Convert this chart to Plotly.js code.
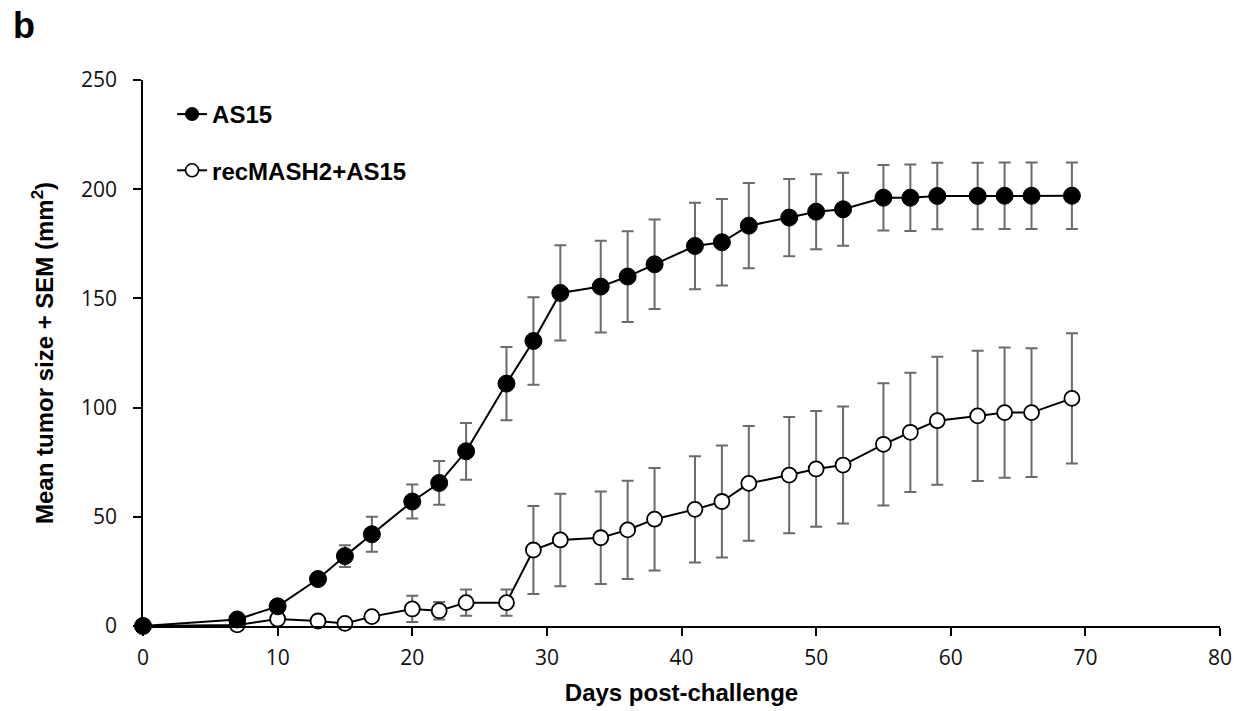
<!DOCTYPE html>
<html>
<head>
<meta charset="utf-8">
<script src="https://cdn.plot.ly/plotly-3.0.1.min.js"></script>
<style>html,body{margin:0;padding:0;background:#fff;}#chart{width:1251px;height:711px;}</style>
</head>
<body>
<div id="chart"></div>
<script>
const days = [0, 7, 10, 13, 15, 17, 20, 22, 24, 27, 29, 31, 34, 36, 38, 41, 43, 45, 48, 50, 52, 55, 57, 59, 62, 64, 66, 69];
const as15Mean = [0, 3, 9, 21.5, 32, 42, 57, 65.5, 80, 111, 130.5, 152.5, 155.4, 160, 165.6, 174, 175.7, 183.3, 187, 189.7, 190.8, 196.1, 196.1, 196.9, 196.9, 197, 197, 197];
const as15Sem = [0, 0, 0, 2, 5, 8, 7.8, 10, 13, 16.8, 20, 21.8, 21, 20.8, 20.5, 19.8, 19.8, 19.5, 17.7, 17.2, 16.7, 15, 15.2, 15.2, 15.2, 15.2, 15.2, 15.2];
const recMean = [0, 0.5, 3.2, 2.3, 1.2, 4.3, 7.8, 7, 10.7, 10.7, 34.8, 39.4, 40.4, 44, 48.9, 53.4, 57, 65.3, 69.1, 71.9, 73.7, 83.2, 88.7, 94, 96.2, 97.7, 97.7, 104.2];
const recSem = [0, 0, 0, 0, 0, 1, 6, 4, 6, 6, 20.2, 21.2, 21.2, 22.5, 23.5, 24.3, 25.6, 26.3, 26.6, 26.5, 26.8, 28, 27.3, 29.3, 29.8, 29.8, 29.5, 29.8];
const seriesNames = ['AS15', 'recMASH2+AS15'];
const xTicks = [0, 10, 20, 30, 40, 50, 60, 70, 80];
const yTicks = [0, 50, 100, 150, 200, 250];

const errStyle = {type: 'data', symmetric: true, color: '#6b6b6b', thickness: 2, width: 6};
const boldFont = 'Liberation Sans, Arial, sans-serif';
const tickFont = '"Open Sans", "Noto Sans", sans-serif';

const traces = [
  {
    x: days, y: recMean, type: 'scatter', mode: 'lines+markers', name: seriesNames[1],
    showlegend: false, cliponaxis: false,
    line: {color: '#000', width: 2},
    marker: {symbol: 'circle', size: 15, color: '#fff', line: {color: '#000', width: 1.8}},
    error_y: Object.assign({array: recSem}, errStyle)
  },
  {
    x: days, y: as15Mean, type: 'scatter', mode: 'lines+markers', name: seriesNames[0],
    showlegend: false, cliponaxis: false,
    line: {color: '#000', width: 2},
    marker: {symbol: 'circle', size: 17, color: '#000', line: {color: '#000', width: 1}},
    error_y: Object.assign({array: as15Sem}, errStyle)
  },
  {
    x: [null], y: [null], type: 'scatter', mode: 'lines+markers', name: seriesNames[0],
    legendgroup: 'a',
    line: {color: '#000', width: 2},
    marker: {symbol: 'circle', size: 14, color: '#000'}
  },
  {
    x: [null], y: [null], type: 'scatter', mode: 'lines+markers', name: seriesNames[1],
    legendgroup: 'b',
    line: {color: '#000', width: 2},
    marker: {symbol: 'circle', size: 13, color: '#fff', line: {color: '#000', width: 1.6}}
  }
];

const layout = {
  width: 1251, height: 711,
  paper_bgcolor: '#fff', plot_bgcolor: '#fff',
  margin: {l: 143, r: 31, t: 80, b: 85},
  font: {family: boldFont, color: '#000'},
  showlegend: true,
  legend: {
    x: 0.027, y: 0.978, xanchor: 'left', yanchor: 'top',
    bgcolor: 'rgba(0,0,0,0)', traceorder: 'grouped', tracegroupgap: 22,
    font: {size: 24, family: boldFont, color: '#000', weight: 'bold'}
  },
  xaxis: {
    range: [0, 80], tickmode: 'array', tickvals: xTicks,
    showgrid: false, zeroline: false, showline: true, linecolor: '#000', linewidth: 1.5,
    ticks: 'outside', ticklen: 8, tickwidth: 1.5, tickcolor: '#000',
    ticklabelstandoff: 4,
    tickfont: {size: 21, family: tickFont, color: '#111'},
    title: {text: 'Days post-challenge', font: {size: 24, family: boldFont, weight: 'bold', color: '#000'}, standoff: 14}
  },
  yaxis: {
    range: [0, 250], tickmode: 'array', tickvals: yTicks,
    showgrid: false, zeroline: false, showline: true, linecolor: '#000', linewidth: 1.5,
    ticks: 'outside', ticklen: 8, tickwidth: 1.5, tickcolor: '#000',
    ticklabelstandoff: 12,
    tickfont: {size: 21, family: tickFont, color: '#111'},
    title: {text: 'Mean tumor size + SEM (mm<sup>2</sup>)', font: {size: 24, family: boldFont, weight: 'bold', color: '#000'}, standoff: 21}
  },
  annotations: [
    {text: 'b', xref: 'paper', yref: 'paper', x: -0.123, y: 1.1, xanchor: 'left', yanchor: 'middle',
     showarrow: false, font: {size: 36, family: boldFont, weight: 'bold', color: '#000'}}
  ]
};

Plotly.newPlot('chart', traces, layout, {displayModeBar: false, responsive: false});
</script>
</body>
</html>
